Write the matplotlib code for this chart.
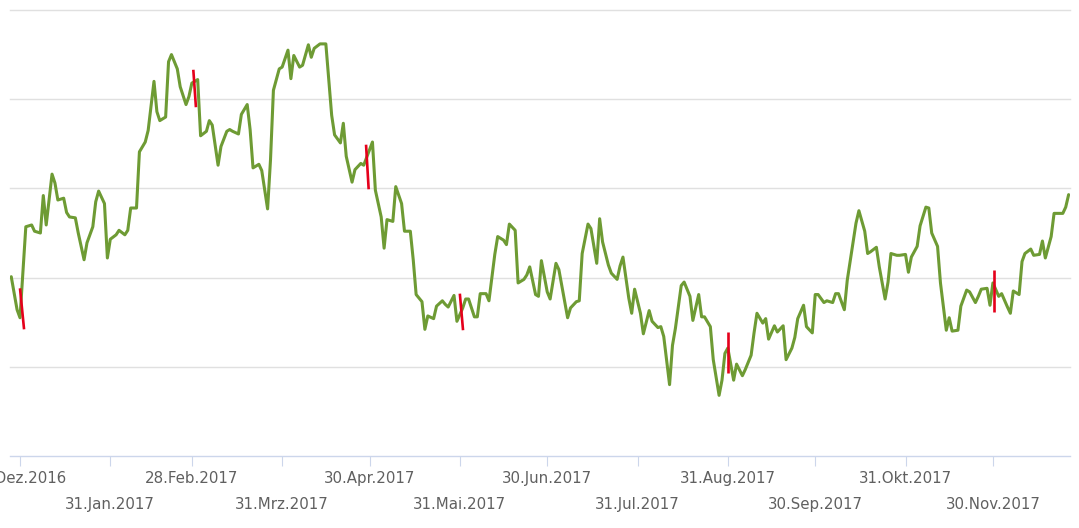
import matplotlib
matplotlib.use("Agg")
import matplotlib.pyplot as plt
import matplotlib.dates as mdates
import pandas as pd
import numpy as np

# ---------------- data ----------------
base_date = "2016-12-31"
days = [-3, -1, 0, 2, 4, 5, 7, 8, 9, 11,
        12, 13, 15, 16, 17, 19, 20, 22, 23, 25,
        26, 27, 29, 30, 31, 33, 34, 36, 37, 38,
        40, 41, 43, 44, 46, 47, 48, 50, 51, 52,
        54, 55, 57, 58, 59, 61, 62, 64, 65, 66,
        68, 69, 71, 72, 73, 75, 76, 78, 79, 80,
        82, 83, 85, 86, 87, 89, 90, 92, 93, 94,
        96, 97, 99, 100, 101, 103, 105, 107, 108, 110,
        111, 112, 114, 115, 117, 118, 121, 122, 124, 125,
        126, 128, 129, 131, 132, 134, 135, 136, 138, 139,
        140, 142, 143, 145, 146, 147, 149, 150, 152, 153,
        154, 156, 157, 158, 160, 161, 163, 164, 166, 167,
        168, 170, 171, 173, 174, 175, 177, 178, 179, 181,
        182, 184, 185, 187, 188, 189, 191, 192, 193, 195,
        196, 198, 199, 200, 202, 203, 205, 206, 207, 209,
        210, 211, 213, 214, 216, 217, 219, 220, 221, 223,
        224, 225, 227, 228, 230, 231, 233, 234, 235, 237,
        238, 240, 241, 242, 243, 245, 246, 248, 249, 251, 252,
        253, 255, 256, 257, 259, 260, 262, 263, 265, 266,
        267, 269, 270, 272, 273, 274, 276, 277, 279, 280,
        281, 283, 284, 287, 288, 290, 291, 292, 294, 295,
        297, 298, 299, 301, 302, 304, 305, 306, 308, 309,
        311, 312, 313, 315, 316, 318, 319, 320, 322, 323,
        325, 326, 328, 329, 330, 332, 333, 334, 336, 337,
        339, 340, 341, 343, 344, 345, 347, 348, 350, 351,
        352, 354, 355, 358, 359, 360]
values = [20.1, 16.4, 15.5, 25.7, 25.9, 25.2, 25.0, 29.2, 25.9, 31.6,
          30.6, 28.7, 28.9, 27.3, 26.8, 26.7, 25.0, 22.0, 23.9, 25.7,
          28.5, 29.7, 28.3, 22.2, 24.3, 24.8, 25.3, 24.8, 25.3, 27.8,
          27.8, 34.1, 35.2, 36.5, 42.0, 38.6, 37.6, 38.0, 44.2, 45.0,
          43.4, 41.4, 39.4, 40.3, 41.8, 42.2, 35.9, 36.4, 37.6, 37.1,
          32.6, 34.7, 36.4, 36.6, 36.4, 36.1, 38.3, 39.4, 36.6, 32.3,
          32.7, 32.0, 27.7, 33.2, 41.0, 43.4, 43.6, 45.5, 42.3, 44.9,
          43.6, 43.8, 46.1, 44.7, 45.7, 46.2, 46.2, 38.2, 36.0, 35.1,
          37.3, 33.6, 30.7, 32.1, 32.8, 32.6, 35.2, 29.8, 26.8, 23.3,
          26.5, 26.3, 30.2, 28.3, 25.2, 25.2, 22.0, 18.1, 17.3, 14.2,
          15.7, 15.4, 16.8, 17.4, 17.0, 16.7, 18.0, 15.1, 16.6, 17.6,
          17.6, 15.6, 15.6, 18.2, 18.2, 17.4, 22.6, 24.6, 24.2, 23.7,
          26.0, 25.3, 19.4, 19.8, 20.3, 21.2, 18.1, 17.9, 21.9, 18.4,
          17.6, 21.6, 20.9, 17.3, 15.5, 16.6, 17.3, 17.4, 22.7, 26.0,
          25.5, 21.6, 26.6, 24.0, 21.4, 20.5, 19.8, 21.3, 22.3, 17.7,
          16.0, 18.7, 16.0, 13.7, 16.3, 15.1, 14.4, 14.5, 13.4, 8.0,
          12.4, 14.3, 19.1, 19.5, 17.9, 15.2, 18.1, 15.6, 15.6, 14.5,
          10.8, 6.8, 8.5, 11.5, 12.1, 8.5, 10.3, 9.0, 9.7, 11.3, 13.8,
          16.0, 14.9, 15.4, 13.1, 14.6, 13.9, 14.6, 10.8, 12.1, 13.3,
          15.4, 16.9, 14.5, 13.8, 18.1, 18.1, 17.2, 17.4, 17.2, 18.2,
          18.2, 16.4, 19.7, 26.1, 27.5, 25.2, 22.7, 22.9, 23.4, 21.2,
          17.6, 19.5, 22.7, 22.5, 22.5, 22.6, 20.6, 22.3, 23.5, 25.8,
          27.9, 27.8, 25.0, 23.5, 19.4, 14.1, 15.5, 14.0, 14.1, 16.8,
          18.6, 18.4, 17.2, 17.9, 18.7, 18.8, 16.9, 19.4, 17.9, 18.2,
          16.7, 16.0, 18.5, 18.1, 21.8, 22.7, 23.2, 22.5, 22.6, 24.1,
          22.2, 24.6, 27.2, 27.2, 27.9, 29.3]

# red month-end markers (start day, end day, start value, end value)
red_start_day = [0.0, 59.5, 118.8, 151.0, 243.2, 334.5]
red_end_day = [1.4, 60.4, 119.7, 152.1, 243.2, 334.5]
red_start_val = [18.8, 43.3, 34.9, 18.2, 13.9, 20.9]
red_end_val = [14.2, 39.1, 29.9, 14.1, 9.3, 16.1]

tick_labels = ["31.Dez.2016", "31.Jan.2017", "28.Feb.2017", "31.Mrz.2017",
               "30.Apr.2017", "31.Mai.2017", "30.Jun.2017", "31.Jul.2017",
               "31.Aug.2017", "30.Sep.2017", "31.Okt.2017", "30.Nov.2017"]
y_grid = [10, 20, 30, 40, 50]

# ---------------- figure ----------------
W, H, DPI = 1079, 528, 100
fig = plt.figure(figsize=(W / DPI, H / DPI), dpi=DPI)
fig.patch.set_facecolor("white")
left_px, right_px, top_px, bottom_px = 10, 1070, 10, 456
ax = fig.add_axes([left_px / W, 1 - bottom_px / H,
                   (right_px - left_px) / W, (bottom_px - top_px) / H])

base = pd.Timestamp(base_date)
x = mdates.date2num(base + pd.to_timedelta(np.array(days, dtype=float), unit="D"))
ax.plot(x, values, color="#6e9b34", lw=2.2, solid_joinstyle="round",
        solid_capstyle="round", zorder=3)

b = mdates.date2num(base)
for s, e, v0, v1 in zip(red_start_day, red_end_day, red_start_val, red_end_val):
    ax.plot([b + s, b + e], [v0, v1], color="#e5001b", lw=1.9,
            solid_capstyle="butt", zorder=4)

ax.set_xlim(b - 3.43, b + 360.47)
ax.set_ylim(0, 50)

for g in y_grid:
    ax.axhline(g, color="#e0e0e0", lw=1.0, zorder=1, clip_on=False)

for sp in ["top", "right", "left"]:
    ax.spines[sp].set_visible(False)
ax.spines["bottom"].set_color("#ccd6eb")
ax.spines["bottom"].set_linewidth(1.0)
ax.set_yticks([])

month_ends = pd.date_range(base_date, periods=12, freq="ME")
tpos = mdates.date2num(month_ends)
ax.set_xticks(tpos[0::2])
ax.set_xticklabels(tick_labels[0::2])
ax.set_xticks(tpos[1::2], minor=True)
ax.set_xticklabels(tick_labels[1::2], minor=True)
ax.tick_params(axis="x", which="both", length=7.2, width=0.8, color="#ccd6eb",
               labelcolor="#606060", labelsize=10.8)
ax.tick_params(axis="x", which="major", pad=3.5)
ax.tick_params(axis="x", which="minor", pad=22.5)

fig.savefig("out.png", dpi=DPI, facecolor="white")
